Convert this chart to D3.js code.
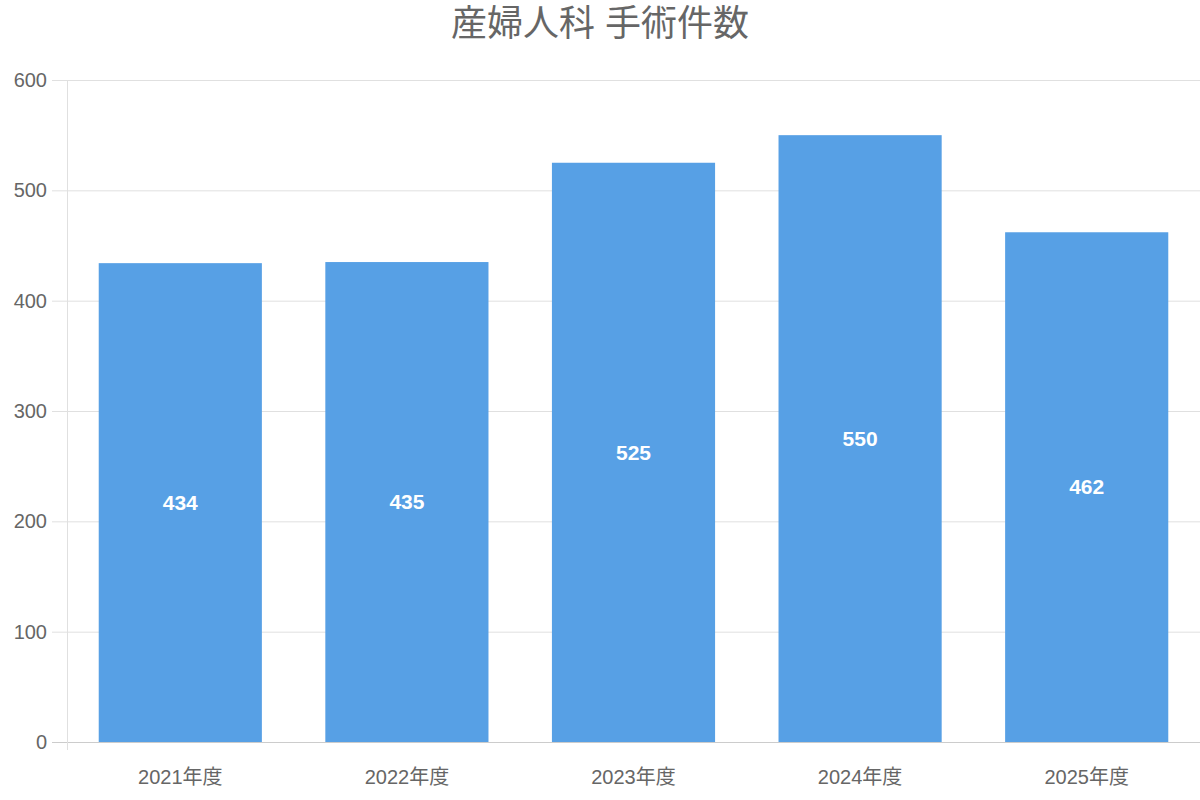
<!DOCTYPE html>
<html><head><meta charset="utf-8">
<script src="https://cdn.jsdelivr.net/npm/d3@7"></script>
<style>body{margin:0;background:#fff}</style></head>
<body><svg id="c" width="1200" height="800"></svg>
<script>
const categories = ["2021年度","2022年度","2023年度","2024年度","2025年度"];
const values = [434,435,525,550,462];
const yTicks = [0,100,200,300,400,500,600];
const title = "産婦人科 手術件数";

const svg = d3.select("#c");
const font = "'Liberation Sans','Noto Sans CJK JP',sans-serif";
const m = {l:67, r:1200, t:80, b:742};
const x = d3.scaleBand().domain(categories).range([m.l, m.r]).paddingInner(0.28).paddingOuter(0.14);
const y = d3.scaleLinear().domain([0,600]).range([m.b, m.t]);

svg.append("text").attr("x",600).attr("y",36).attr("text-anchor","middle")
  .attr("font-family",font).attr("font-size",36).attr("fill","#666").text(title);

const g = svg.append("g");
g.selectAll("line.grid").data(yTicks).join("line")
  .attr("x1",52).attr("x2",1200).attr("y1",d=>y(d)+0.5).attr("y2",d=>y(d)+0.5)
  .attr("stroke",d=>d===0?"#ccc":"#e0e0e0").attr("stroke-width",1);
g.append("line").attr("x1",m.l+0.5).attr("x2",m.l+0.5).attr("y1",m.t).attr("y2",m.b+8).attr("stroke","#e0e0e0");
g.selectAll("text.yt").data(yTicks).join("text")
  .attr("x",47).attr("y",d=>y(d)).attr("dy","0.35em").attr("text-anchor","end")
  .attr("font-family",font).attr("font-size",20).attr("fill","#666").text(d=>d);

svg.selectAll("rect.bar").data(values).join("rect")
  .attr("x",(d,i)=>x(categories[i])).attr("width",x.bandwidth())
  .attr("y",d=>y(d)).attr("height",d=>y(0)-y(d)).attr("fill","#57a0e5");

svg.selectAll("text.lbl").data(values).join("text")
  .attr("x",(d,i)=>x(categories[i])+x.bandwidth()/2).attr("y",d=>(y(d)+y(0))/2)
  .attr("dy","0.35em").attr("text-anchor","middle").attr("font-family",font)
  .attr("font-weight","bold").attr("font-size",21).attr("fill","#fff").text(d=>d);

svg.selectAll("text.xt").data(categories).join("text")
  .attr("x",d=>x(d)+x.bandwidth()/2).attr("y",777).attr("dy","0.35em").attr("text-anchor","middle")
  .attr("font-family",font).attr("font-size",20).attr("fill","#666").text(d=>d);
</script></body></html>
